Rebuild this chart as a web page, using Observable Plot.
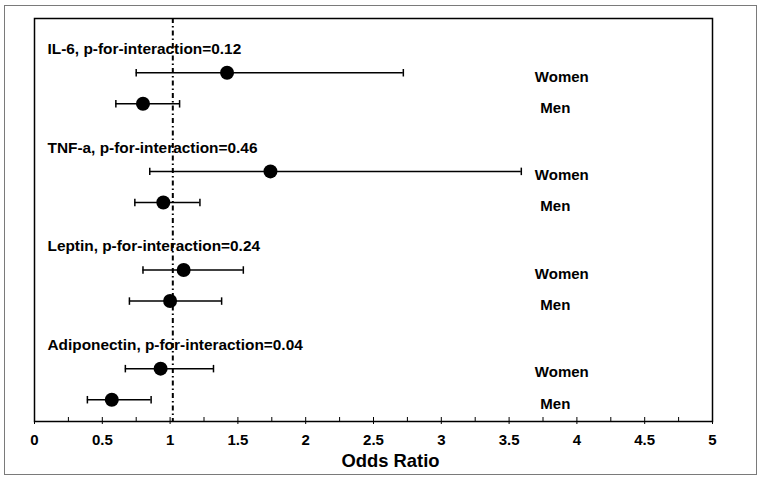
<!DOCTYPE html>
<html>
<head>
<meta charset="utf-8">
<script src="https://cdn.jsdelivr.net/npm/d3@7"></script>
<script src="https://cdn.jsdelivr.net/npm/@observablehq/plot@0.6"></script>
<style>
  html, body { margin: 0; padding: 0; background: #fff; }
  #wrap { position: relative; width: 762px; height: 481px; }
  #border { position: absolute; left: 4px; top: 5px; width: 753px; height: 470px; box-sizing: border-box; border: 1.5px solid #7a7a7a; }
  #chart { position: absolute; left: 0; top: 0; }
</style>
</head>
<body>
<div id="wrap"><div id="border"></div><div id="chart"></div></div>
<script>
// ---- data ----
const markers = ["IL-6", "TNF-a", "Leptin", "Adiponectin"];
const pInteraction = ["0.12", "0.46", "0.24", "0.04"];
const sexes = ["Women", "Men"];
const orWomen   = [1.42, 1.74, 1.10, 0.93];
const lowWomen  = [0.75, 0.85, 0.80, 0.67];
const highWomen = [2.72, 3.59, 1.54, 1.32];
const orMen     = [0.80, 0.95, 1.00, 0.57];
const lowMen    = [0.60, 0.74, 0.70, 0.39];
const highMen   = [1.07, 1.22, 1.38, 0.86];
const xTicks = [0, 0.5, 1, 1.5, 2, 2.5, 3, 3.5, 4, 4.5, 5];
const minorTicks = [0.25, 0.75, 1.25, 1.75, 2.25, 2.75, 3.25, 3.75, 4.25, 4.75];
const refValue = 1.02;
const xLabel = "Odds Ratio";

// ---- layout of rows (group index + offset) ----
const rowOffset = {Women: 0.5, Men: 0.815, header: 0.26};
const rows = [];
markers.forEach((m, i) => {
  rows.push({marker: m, sex: "Women", or: orWomen[i], low: lowWomen[i], high: highWomen[i], y: i + rowOffset.Women});
  rows.push({marker: m, sex: "Men", or: orMen[i], low: lowMen[i], high: highMen[i], y: i + rowOffset.Men});
});
const headers = markers.map((m, i) => ({label: `${m}, p-for-interaction=${pInteraction[i]}`, y: i + rowOffset.header}));
const sexLabelX = {Women: 3.69, Men: 3.73};

const font = "'Liberation Sans', Arial, Helvetica, sans-serif";
const W = 762, H = 481, mT = 18, mB = 60;
const capHalf = 0.038;

const chart = Plot.plot({
  width: W, height: H,
  marginLeft: 34, marginRight: 50, marginTop: mT, marginBottom: mB,
  style: {fontFamily: font, background: "transparent", color: "black"},
  x: {domain: [0, 5], axis: null},
  y: {domain: [-0.05, 4.036], reverse: true, axis: null},
  marks: [
    Plot.tickX(minorTicks.concat(xTicks), {x: d => d, stroke: "black", strokeWidth: 1, insetTop: H - mT - mB - 4}),
    Plot.tickX(xTicks, {x: d => d, stroke: "black", strokeWidth: 1, insetTop: H - mT - mB, insetBottom: -3}),
    Plot.ruleX([refValue], {x: d => d, stroke: "black", strokeWidth: 2, strokeDasharray: "5,3,1.5,3"}),
    Plot.ruleY(rows, {y: "y", x1: "low", x2: "high", stroke: "black", strokeWidth: 1.5}),
    Plot.link(rows, {x1: "low", x2: "low", y1: d => d.y - capHalf, y2: d => d.y + capHalf, stroke: "black", strokeWidth: 1.5}),
    Plot.link(rows, {x1: "high", x2: "high", y1: d => d.y - capHalf, y2: d => d.y + capHalf, stroke: "black", strokeWidth: 1.5}),
    Plot.dot(rows, {x: "or", y: "y", r: 7, fill: "black", stroke: "none"}),
    Plot.text(headers, {x: () => 0, y: "y", text: "label", dx: 13, textAnchor: "start", fontSize: 15.4, fontWeight: "bold", fill: "black"}),
    Plot.text(rows, {x: d => sexLabelX[d.sex], y: "y", text: "sex", dy: 4, textAnchor: "start", fontSize: 15, fontWeight: "bold", fill: "black"}),
    Plot.frame({stroke: "black", strokeWidth: 1.5}),
    Plot.axisX(xTicks, {tickSize: 0, tickPadding: 13, tickFormat: d => String(d), fontSize: 15, fontWeight: "bold", label: null, fill: "black"}),
    Plot.text([xLabel], {frameAnchor: "bottom", dy: 45, dx: 17, text: d => d, fontSize: 18.4, fontWeight: "bold", fill: "black"})
  ]
});
document.getElementById("chart").appendChild(chart);
</script>
</body>
</html>
